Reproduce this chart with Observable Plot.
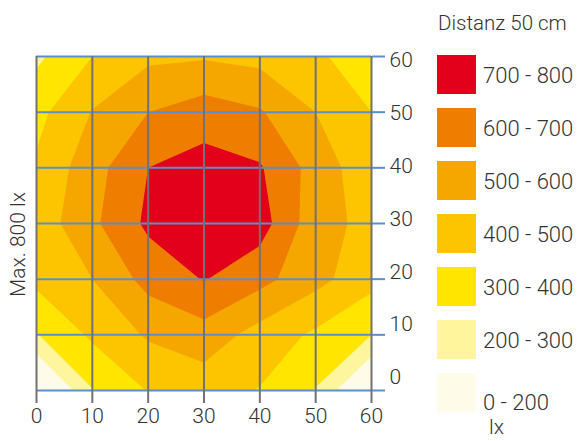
<!DOCTYPE html>
<html><head><meta charset="utf-8">
<script src="https://cdn.jsdelivr.net/npm/d3@7"></script>
<script src="https://cdn.jsdelivr.net/npm/@observablehq/plot@0.6"></script>
<style>
html,body{margin:0;padding:0;background:#fff;}
#wrap{position:relative;width:582px;height:441px;overflow:hidden;font-family:Roboto,sans-serif;font-weight:300;color:#333;}
#wrap svg{position:absolute;left:0;top:0;}
.lg{position:absolute;line-height:1.2;white-space:nowrap;font-size:22px;}
.sw{position:absolute;width:39px;height:39px;left:437px;}
</style></head><body><div id="wrap"></div>
<script>
// Measurement grid (cm), illuminance in lx, rows from y = 60 (top) to y = 0 (bottom)
const xTicks = [0, 10, 20, 30, 40, 50, 60];
const yTicks = [0, 10, 20, 30, 40, 50, 60];
const row60 = [280, 400, 480, 490, 470, 430, 300];
const row50 = [370, 505, 600, 650, 610, 500, 400];
const row40 = [415, 560, 700, 740, 710, 560, 430];
const row30 = [440, 580, 720, 790, 745, 540, 470];
const row20 = [425, 500, 635, 705, 632, 532, 432];
const row10 = [295, 418, 513, 560, 460, 383, 300];
const row0  = [ 20, 295, 405, 440, 395, 295,  40];

const thresholds = [0, 200, 300, 400, 500, 600, 700, 800];
const bandDomain = [200, 300, 400, 500, 600, 700];
const bandColors = ["#fffbe9", "#fff59c", "#ffe500", "#fcc500", "#f5a700", "#ef7d00", "#e2001a"];
const legendTitle = "Distanz 50 cm";
const legendLabels = ["700 - 800", "600 - 700", "500 - 600", "400 - 500", "300 - 400", "200 - 300", "0 - 200"];
const unitLabel = "lx";
const yTitle = "Max. 800 lx";

const values = [row60, row50, row40, row30, row20, row10, row0].flat();

const blue = "#5b8fcc", gray = "#707275", ink = "#333";
const font = "Roboto, sans-serif";
const wrap = document.getElementById("wrap");

const main = Plot.plot({
  width: 582, height: 441,
  marginLeft: 36, marginRight: 211, marginTop: 56, marginBottom: 51,
  style: {fontFamily: font, fontWeight: 300, color: ink, background: "transparent"},
  x: {domain: [0, 60]},
  y: {domain: [0, 60]},
  color: {type: "threshold", domain: bandDomain, range: bandColors},
  marks: [
    Plot.contour(values, {
      width: 7, height: 7,
      x1: -5, x2: 65, y1: 65, y2: -5,
      fill: Plot.identity,
      thresholds,
      clip: true
    }),
    Plot.ruleY(yTicks, {x1: 0, x2: 60, stroke: blue, strokeWidth: 2}),
    Plot.axisY(yTicks, {anchor: "right", tickSize: 13, stroke: blue, strokeWidth: 2, tickFormat: () => "", label: null}),
    Plot.ruleX(xTicks, {y1: 0, y2: 60, stroke: gray, strokeWidth: 2}),
    Plot.axisX(xTicks, {tickSize: 13, tickPadding: 5, stroke: gray, strokeWidth: 2, fontSize: 21, fill: ink, label: null}),
    Plot.text([yTitle], {frameAnchor: "left", textAnchor: "middle", rotate: -90, dx: -18, dy: 21, fontSize: 21, fill: ink})
  ]
});
wrap.appendChild(main);

// right-hand tick labels (set slightly tighter than the grid in the original)
const ylabels = Plot.plot({
  width: 582, height: 441,
  marginLeft: 36, marginRight: 211, marginTop: 60, marginBottom: 64,
  style: {fontFamily: font, fontWeight: 300, color: ink, background: "transparent"},
  x: {domain: [0, 60], axis: null},
  y: {domain: [0, 60]},
  marks: [
    Plot.axisY(yTicks, {anchor: "right", tickSize: 0, tickPadding: 18, fontSize: 21, fill: ink, label: null})
  ]
});
wrap.appendChild(ylabels);

// legend
const title = document.createElement("div");
title.className = "lg";
title.style.cssText = "left:438px;top:11px;font-size:20.5px;";
title.textContent = legendTitle;
wrap.appendChild(title);
const legendOrder = bandColors.slice().reverse();
legendLabels.forEach((lab, i) => {
  const sw = document.createElement("div");
  sw.className = "sw";
  sw.style.top = (55 + 53 * i) + "px";
  sw.style.background = legendOrder[i];
  wrap.appendChild(sw);
  const t = document.createElement("div");
  t.className = "lg";
  t.style.left = "483px";
  t.style.top = (i === legendLabels.length - 1 ? 390 : 63 + 53 * i) + "px";
  t.textContent = lab;
  wrap.appendChild(t);
});
const unit = document.createElement("div");
unit.className = "lg";
unit.style.cssText = "left:489px;top:415px;font-size:21px;";
unit.textContent = unitLabel;
wrap.appendChild(unit);
</script></body></html>
